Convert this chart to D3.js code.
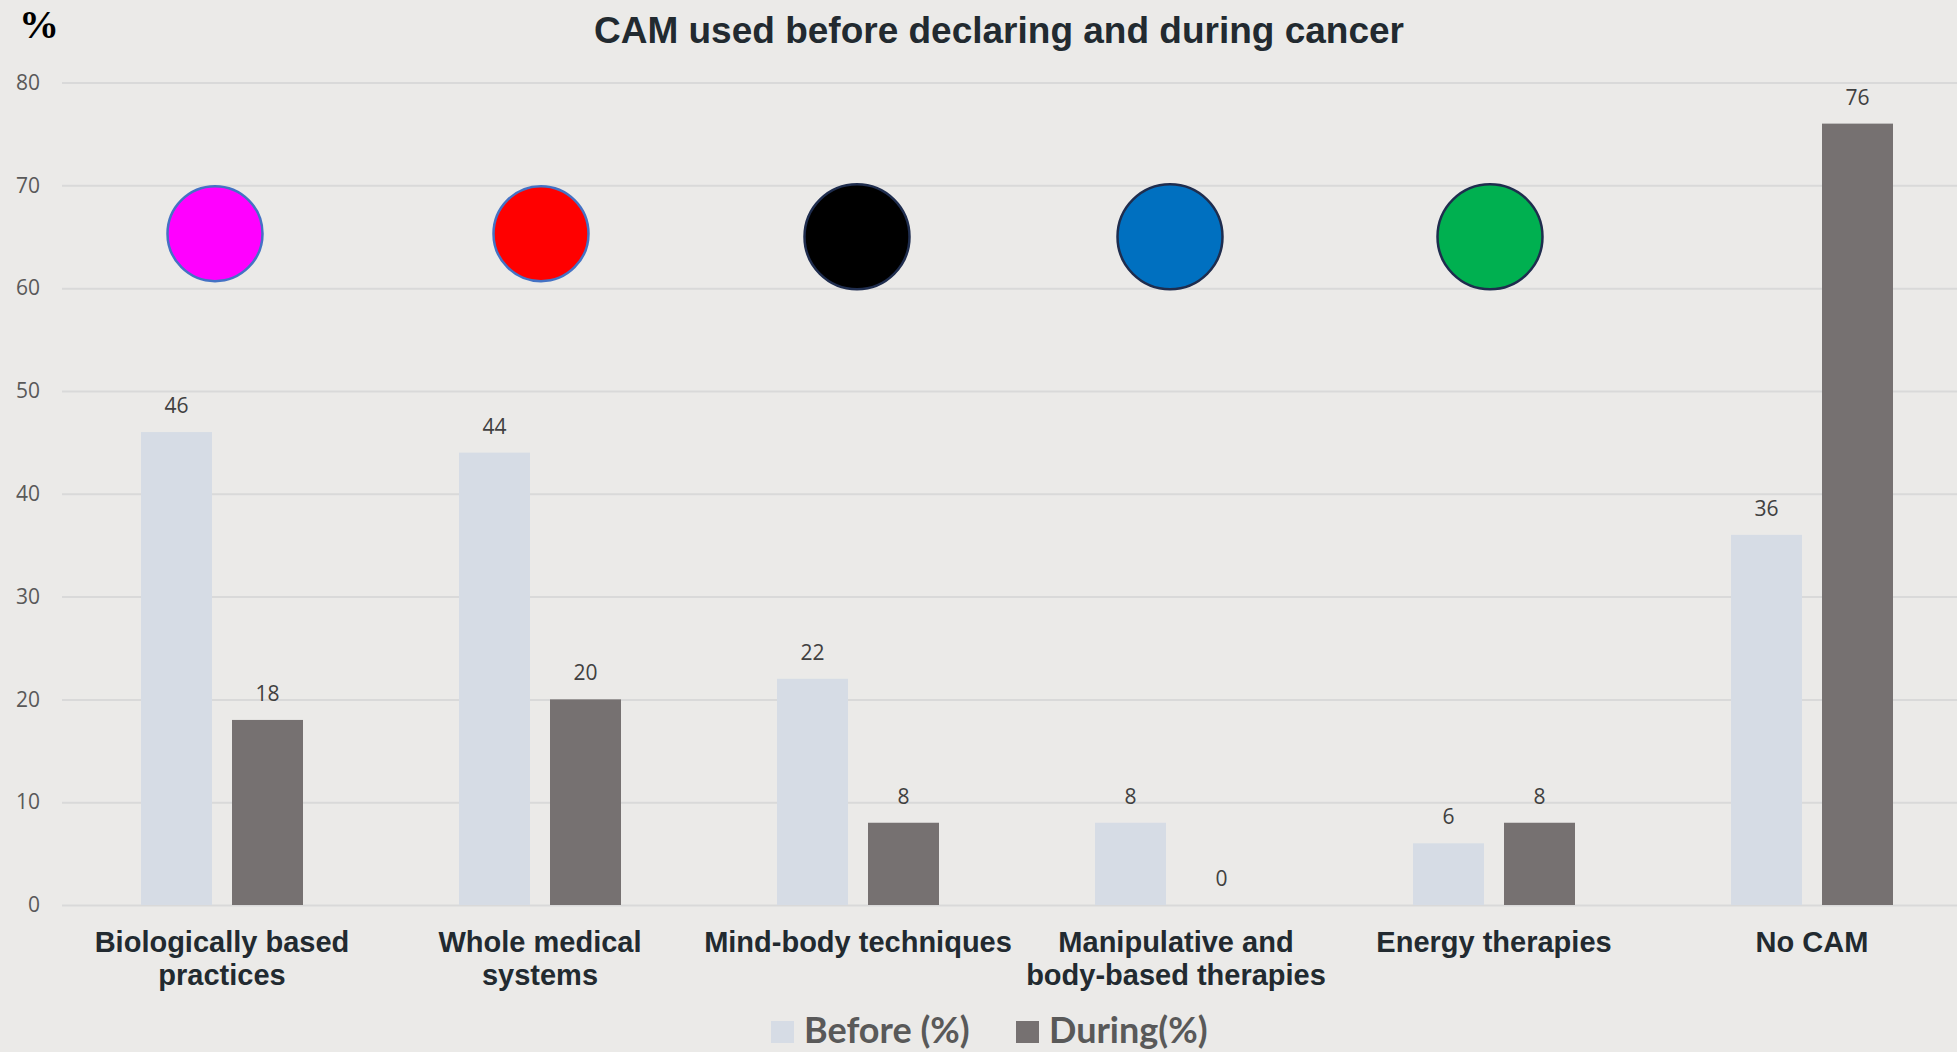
<!DOCTYPE html>
<html>
<head>
<meta charset="utf-8">
<script src="https://cdn.jsdelivr.net/npm/d3@7"></script>
<style>
  html, body { margin: 0; padding: 0; background: #EBEAE8; }
  svg { display: block; }
</style>
</head>
<body>
<div id="chart"></div>
<script>
// chart values
var categories = [
  ["Biologically based", "practices"],
  ["Whole medical", "systems"],
  ["Mind-body techniques"],
  ["Manipulative and", "body-based therapies"],
  ["Energy therapies"],
  ["No CAM"]
]
var series = ["Before (%)", "During(%)"]
var before = [46, 44, 22, 8, 6, 36]
var during = [18, 20, 8, 0, 8, 76]
var yTicks = [0, 10, 20, 30, 40, 50, 60, 70, 80]
var markerFills = ["#FF00FF", "#FF0000", "#000000", "#0070C0", "#00B050"]
var markerStrokes = ["#4472C4", "#4472C4", "#1F2D4E", "#1F2D4E", "#1F2D4E"]

var width = 1957
var height = 1052
var margin = ({ top: 82, right: 0, bottom: 147, left: 62 })
var step = 318
var barW = 71
var barGap = 20

var color = d3.scaleOrdinal()
  .domain(series)
  .range(["#D6DCE5", "#767171"])

var x = d3.scaleBand()
  .domain(d3.range(categories.length))
  .range([63, 63 + step * categories.length])
  .padding(0)

var x1 = d3.scaleBand()
  .domain(series)
  .range([0, barW * 2 + barGap])
  .paddingInner(barGap / (barW + barGap))

var y = d3.scaleLinear()
  .domain([0, 80])
  .range([905, 82.5])

var svg = d3.select("#chart").append("svg")
  .attr("width", width)
  .attr("height", height)

svg.append("rect")
  .attr("width", width)
  .attr("height", height)
  .attr("fill", "#EBEAE8")

// gridlines + y labels
var yAxis = g => g
  .attr("transform", `translate(${margin.left},0)`)
  .call(d3.axisLeft(y).tickValues(yTicks).tickSize(-(width - margin.left)).tickPadding(22))
  .call(g => g.select(".domain").remove())
  .call(g => g.selectAll(".tick line").attr("stroke", "#D9D9D9").attr("stroke-width", 2))
  .call(g => g.selectAll(".tick text")
    .attr("fill", "#595959")
    .attr("font-family", "'Open Sans', sans-serif")
    .attr("font-size", 21))

svg.append("g").call(yAxis)

// title
svg.append("text")
  .attr("x", 999)
  .attr("y", 43)
  .attr("text-anchor", "middle")
  .attr("font-family", "'Liberation Sans', Arial, sans-serif")
  .attr("font-weight", "bold")
  .attr("font-size", 37)
  .attr("fill", "#222A30")
  .text("CAM used before declaring and during cancer")

svg.append("text")
  .attr("x", 19)
  .attr("y", 38)
  .attr("font-family", "'Liberation Serif', 'Times New Roman', serif")
  .attr("font-weight", "bold")
  .attr("font-size", 40)
  .attr("fill", "#000")
  .text("%")

// bars
var rows = categories.map((c, i) => ({ i: i, values: [before[i], during[i]] }))

var groups = svg.append("g")
  .selectAll("g")
  .data(rows)
  .join("g")
  .attr("transform", d => `translate(${x(d.i) + (x.bandwidth() - x1.range()[1]) / 2},0)`)

groups.selectAll("rect")
  .data(d => d.values.map((v, j) => ({ key: series[j], value: v })))
  .join("rect")
  .attr("x", d => x1(d.key))
  .attr("y", d => y(d.value))
  .attr("width", x1.bandwidth())
  .attr("height", d => y(0) - y(d.value))
  .attr("fill", d => color(d.key))

groups.selectAll("text")
  .data(d => d.values.map((v, j) => ({ key: series[j], value: v })))
  .join("text")
  .attr("x", d => x1(d.key) + x1.bandwidth() / 2)
  .attr("y", d => y(d.value) - 19)
  .attr("text-anchor", "middle")
  .attr("font-family", "'Open Sans', sans-serif")
  .attr("font-size", 21)
  .attr("fill", "#404040")
  .text(d => d.value)

// category labels
svg.append("g")
  .selectAll("text")
  .data(categories)
  .join("text")
  .attr("x", (d, i) => x(i) + x.bandwidth() / 2)
  .attr("y", 952)
  .attr("text-anchor", "middle")
  .attr("font-family", "'Liberation Sans', Arial, sans-serif")
  .attr("font-weight", "bold")
  .attr("font-size", 29)
  .attr("fill", "#222A30")
  .selectAll("tspan")
  .data(d => d)
  .join("tspan")
  .attr("x", function () { return this.parentNode.getAttribute("x") })
  .attr("dy", (d, i) => i ? 33 : 0)
  .text(d => d)

// coloured markers above the first five groups (hand placed, slightly off-centre)
var nudge = [-7, 1, -1, -6, -4]
svg.append("g")
  .selectAll("circle")
  .data(markerFills)
  .join("circle")
  .attr("cx", (d, i) => x(i) + x.bandwidth() / 2 + nudge[i])
  .attr("cy", (d, i) => i < 2 ? y(65.3) : y(65))
  .attr("r", (d, i) => i < 2 ? 47.5 : 52.5)
  .attr("fill", d => d)
  .attr("stroke", (d, i) => markerStrokes[i])
  .attr("stroke-width", 2.5)

// legend
var legend = svg.append("g")
  .selectAll("g")
  .data(series)
  .join("g")
  .attr("transform", (d, i) => `translate(${[771, 1016][i]},0)`)

legend.append("rect")
  .attr("y", 1021)
  .attr("width", 23)
  .attr("height", 22)
  .attr("fill", color)

legend.append("text")
  .attr("x", 33)
  .attr("y", 1043)
  .attr("font-family", "Lato, 'Open Sans', sans-serif")
  .attr("font-weight", "bold")
  .attr("font-size", 36)
  .attr("fill", "#595959")
  .text(d => d)
</script>
</body>
</html>
